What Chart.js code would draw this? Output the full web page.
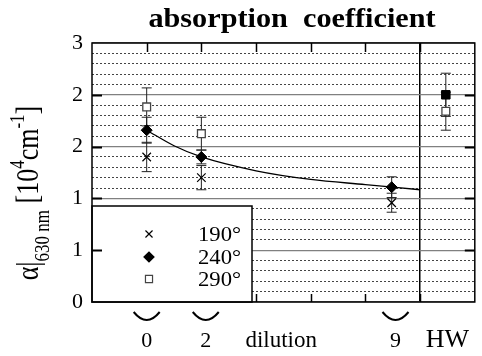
<!DOCTYPE html>
<html>
<head>
<meta charset="utf-8">
<script src="https://cdn.jsdelivr.net/npm/chart.js@4.4.0/dist/chart.umd.min.js"></script>
<style>
  html, body { margin: 0; padding: 0; background: #fff; }
</style>
</head>
<body>
<canvas id="grafico" width="482" height="356"></canvas>
<script>
// data
const posX = [1, 2, 5.48]
const v190 = [1.68, 1.44, 1.15]
const e190 = [0.17, 0.14, 0.11]
const v240 = [1.99, 1.68, 1.33]
const e240 = [0.15, 0.08, 0.12]
const v290 = [2.26, 1.95, null]
const e290 = [0.22, 0.19, null]

// HW sample
const hwX = 6.47
const hwFilled = 2.40
const hwFilledErr = 0.25
const hwOpen = 2.21
const hwOpenErr = 0.22

// fit curve
const fitX = [1, 1.5, 2, 3, 4, 5, 6]
const fitY = [1.99, 1.81, 1.68, 1.52, 1.42, 1.36, 1.30]

// axis labels
const xLabels = ['0', '2', 'dilution', '9', 'HW']
const xLabelPos = [1, 2.08, 3.46, 5.55, 6.5]
const bracketPos = [1, 2.08, 5.55]
const legendNames = ['190°', '240°', '290°']
const legendStyles = ['crossRot', 'rectRot', 'rect']

const SERIF = '"Liberation Serif", "DejaVu Serif", serif'

const pts = (xs, ys) => xs.map((x, i) => ({ x: x, y: ys[i] })).filter(p => p.y !== null)

// text stretched a little wider, like the scanned figure
function wideText(ctx, txt, x, y, sc) {
  ctx.save()
  ctx.translate(x, y)
  ctx.scale(sc, 1)
  ctx.fillText(txt, 0, 0)
  ctx.restore()
}

const extras = {
  id: 'extras',
  beforeDatasetsDraw(chart) {
    const ctx = chart.ctx
    const a = chart.chartArea
    const sx = chart.scales.x
    const sy = chart.scales.y

    // legend box (covers grid)
    const lx = a.left, lw = 160, lh = 96, ly = a.bottom - lh
    ctx.save()
    ctx.fillStyle = '#fff'
    ctx.fillRect(lx, ly, lw, lh)
    ctx.strokeStyle = '#000'
    ctx.lineWidth = 1.5
    ctx.strokeRect(lx, ly, lw, lh)
    const rows = [ly + 28, ly + 51, ly + 73]
    legendNames.forEach((name, i) => {
      const st = legendStyles[i]
      ctx.fillStyle = st === 'rectRot' ? '#000' : '#fff'
      ctx.strokeStyle = st === 'rect' ? '#444' : '#000'
      ctx.lineWidth = 1.2
      Chart.helpers.drawPoint(ctx, { pointStyle: st, radius: 5, borderWidth: 1.2 }, lx + 57, rows[i])
      ctx.fillStyle = '#000'
      ctx.font = '21px ' + SERIF
      ctx.textAlign = 'left'
      ctx.textBaseline = 'middle'
      wideText(ctx, name, lx + 106, rows[i] + 1, 1.08)
    })
    ctx.restore()

    // error bars
    const bar = (x, y, e) => {
      if (y === null || e === null) return
      const px = sx.getPixelForValue(x)
      const t = sy.getPixelForValue(y + e)
      const b = sy.getPixelForValue(y - e)
      ctx.beginPath()
      ctx.moveTo(px, t); ctx.lineTo(px, b)
      ctx.moveTo(px - 5, t); ctx.lineTo(px + 5, t)
      ctx.moveTo(px - 5, b); ctx.lineTo(px + 5, b)
      ctx.stroke()
    }
    ctx.save()
    ctx.strokeStyle = '#222'
    ctx.lineWidth = 1
    posX.forEach((x, i) => {
      bar(x, v190[i], e190[i])
      bar(x, v240[i], e240[i])
      bar(x, v290[i], e290[i])
    })
    bar(hwX, hwFilled, hwFilledErr)
    bar(hwX, hwOpen, hwOpenErr)
    ctx.restore()
  },
  afterDraw(chart) {
    const ctx = chart.ctx
    const a = chart.chartArea
    const sx = chart.scales.x
    const sy = chart.scales.y
    ctx.save()

    // frame
    ctx.strokeStyle = '#000'
    ctx.lineWidth = 1.5
    ctx.strokeRect(a.left, a.top, a.right - a.left, a.bottom - a.top)

    // inward ticks
    ctx.lineWidth = 2
    sy.ticks.forEach(t => {
      if (t.value <= 0 || t.value >= 3) return
      const py = Math.round(sy.getPixelForValue(t.value)) + 0.5
      ctx.beginPath()
      ctx.moveTo(a.left, py); ctx.lineTo(a.left + 10, py)
      ctx.moveTo(a.right, py); ctx.lineTo(a.right - 10, py)
      ctx.stroke()
    })
    ctx.lineWidth = 1.5
    sx.ticks.forEach(t => {
      if (t.value <= 0 || t.value >= 7) return
      const px = Math.round(sx.getPixelForValue(t.value)) + 0.5
      ctx.beginPath()
      ctx.moveTo(px, a.top); ctx.lineTo(px, a.top + 9)
      if (t.value >= 3) { ctx.moveTo(px, a.bottom); ctx.lineTo(px, a.bottom - 8) }
      ctx.stroke()
    })

    // title
    ctx.fillStyle = '#000'
    ctx.font = 'bold 27px ' + SERIF
    ctx.textAlign = 'center'
    ctx.textBaseline = 'alphabetic'
    wideText(ctx, 'absorption  coefficient', 292, 27, 1.12)

    // x labels and brackets
    xLabels.forEach((lab, i) => {
      const px = sx.getPixelForValue(xLabelPos[i])
      if (lab === 'dilution') ctx.font = '23px ' + SERIF
      else if (lab === 'HW') ctx.font = '26px ' + SERIF
      else ctx.font = '22px ' + SERIF
      ctx.fillText(lab, px, a.bottom + 45)
    })
    ctx.lineWidth = 2
    bracketPos.forEach(v => {
      const px = sx.getPixelForValue(v)
      ctx.beginPath()
      ctx.moveTo(px - 13, a.bottom + 10)
      ctx.quadraticCurveTo(px, a.bottom + 26, px + 13, a.bottom + 10)
      ctx.stroke()
    })

    // y axis title, rotated
    const parts = [
      { t: 'α', f: 26, dy: 0 },
      { t: '|', f: 26, dy: 0 },
      { t: '630 nm', f: 17, dy: 9 },
      { t: ' [10', f: 26, dy: 0 },
      { t: '4', f: 17, dy: -12 },
      { t: 'cm', f: 26, dy: 0 },
      { t: '-1', f: 17, dy: -12 },
      { t: ']', f: 26, dy: 0 }
    ]
    let total = 0
    parts.forEach(p => {
      ctx.font = p.f + 'px ' + SERIF
      p.w = ctx.measureText(p.t).width
      total += p.w
    })
    ctx.translate(38, 193)
    ctx.rotate(-Math.PI / 2)
    ctx.scale(1, 1.2)
    ctx.textAlign = 'left'
    let u = -total / 2
    parts.forEach(p => {
      ctx.font = p.f + 'px ' + SERIF
      ctx.fillText(p.t, u, p.dy)
      u += p.w
    })
    ctx.restore()
  }
}

new Chart(document.getElementById('grafico'), {
  type: 'scatter',
  data: {
    datasets: [
      {
        type: 'line',
        label: 'fit',
        data: pts(fitX, fitY),
        borderColor: '#000',
        borderWidth: 1.3,
        pointRadius: 0,
        cubicInterpolationMode: 'monotone',
        fill: false
      },
      {
        label: '190°',
        data: pts(posX, v190),
        pointStyle: 'crossRot',
        pointRadius: 6,
        borderColor: '#000',
        pointBorderWidth: 1.2
      },
      {
        label: '240°',
        data: pts(posX, v240),
        pointStyle: 'rectRot',
        pointRadius: 5.5,
        backgroundColor: '#000',
        borderColor: '#000',
        pointBorderWidth: 1
      },
      {
        label: '290°',
        data: pts(posX.concat([hwX]), v290.concat([hwOpen])),
        pointStyle: 'rect',
        pointRadius: 5.5,
        backgroundColor: '#fff',
        borderColor: '#444',
        pointBorderWidth: 1.3
      },
      {
        label: 'HW',
        data: [{ x: hwX, y: hwFilled }],
        pointStyle: 'rect',
        pointRadius: 6,
        backgroundColor: '#000',
        borderColor: '#000',
        pointBorderWidth: 1
      }
    ]
  },
  options: {
    responsive: false,
    animation: false,
    devicePixelRatio: 1,
    layout: { padding: { left: 0, right: 7, top: 43, bottom: 54 } },
    plugins: {
      legend: { display: false },
      tooltip: { enabled: false }
    },
    scales: {
      x: {
        type: 'linear',
        min: 0,
        max: 7,
        ticks: { display: false, stepSize: 1 },
        grid: {
          drawTicks: false,
          color: c => c.tick && c.tick.value === 6 ? '#000' : 'rgba(0,0,0,0)',
          lineWidth: 1.5
        },
        border: { display: false },
        afterFit: s => { s.height = 0 }
      },
      y: {
        min: 0,
        max: 3,
        ticks: {
          stepSize: 0.6,
          callback: v => Math.round(v),
          color: '#000',
          font: { family: SERIF, size: 22 },
          padding: 9
        },
        grid: { drawTicks: false, color: '#808080', lineWidth: 1.2 },
        border: { display: false },
        afterFit: s => { s.width = 92 }
      },
      y2: {
        position: 'left',
        min: 0,
        max: 3,
        ticks: { display: false, stepSize: 0.12, maxTicksLimit: 100 },
        grid: {
          drawTicks: false,
          color: c => c.index % 5 === 0 ? 'rgba(0,0,0,0)' : '#444',
          lineWidth: 1
        },
        border: { display: false, dash: [2, 2] },
        afterFit: s => { s.width = 0 }
      }
    }
  },
  plugins: [extras]
})
</script>
</body>
</html>
